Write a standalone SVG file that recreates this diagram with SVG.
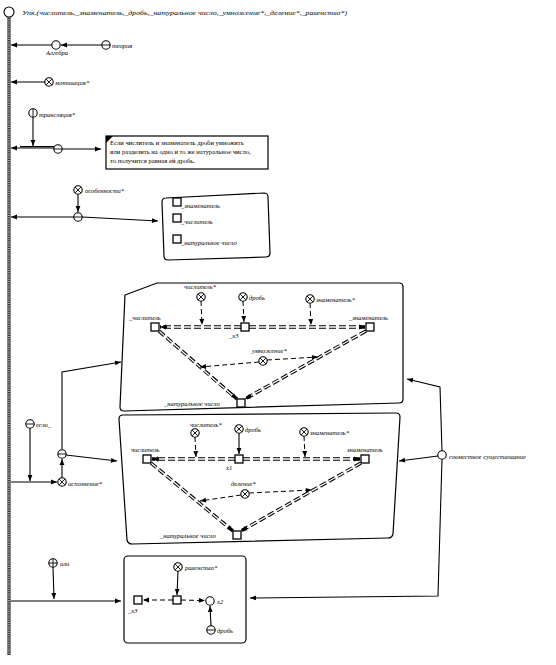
<svg xmlns="http://www.w3.org/2000/svg" xmlns:xlink="http://www.w3.org/1999/xlink" width="556" height="665" viewBox="0 0 556 665">
<style>
.t{font-family:"Liberation Serif",serif;font-style:italic;font-size:6.5px;fill:#000}
.tb{font-family:"Liberation Serif",serif;font-size:6.6px;fill:#000}
.ln{stroke:#000;stroke-width:1.1;fill:none}
.ds{stroke:#000;stroke-width:1;stroke-dasharray:5 3;fill:none}
.ddb{stroke:#000;stroke-width:3.4;stroke-dasharray:7 3;fill:none}
.ddw{stroke:#fff;stroke-width:1.3;stroke-dasharray:7 3;fill:none}
.sq{fill:#fff;stroke:#000;stroke-width:1.3}
.box{fill:#fff;stroke:#000;stroke-width:1.2}
.c{fill:#fff;stroke:#000;stroke-width:1.1}
.sym{stroke:#000;stroke-width:0.9;fill:none}
</style>
<defs>
<marker id="a" viewBox="0 0 10 10" refX="10" refY="5" markerWidth="7" markerHeight="6" orient="auto" markerUnits="userSpaceOnUse">
<path d="M0,1 L10,5 L0,9 Z" fill="#000"/>
</marker>
<g id="cO"><circle class="c" r="4.2"/></g>
<g id="cX"><circle class="c" r="4.2"/><path class="sym" d="M-2.9,-2.9 L2.9,2.9 M-2.9,2.9 L2.9,-2.9"/></g>
<g id="cH"><circle class="c" r="4.2"/><path class="sym" d="M-4.2,0 L4.2,0"/></g>
<g id="cV"><circle class="c" r="4.2"/><path class="sym" d="M0,-4.2 L0,4.2"/></g>
<g id="cP"><circle class="c" r="4.2"/><path class="sym" d="M-4.2,0 L4.2,0 M0,-4.2 L0,4.2"/></g>
<rect id="s" x="-4" y="-4" width="8" height="8" class="sq"/>
</defs>
<rect width="556" height="665" fill="#fff"/>

<g id="axis">
<line x1="9" y1="17" x2="9" y2="655" stroke="#333" stroke-width="3.2"/>
<line x1="9" y1="17" x2="9" y2="655" stroke="#fff" stroke-width="1.2" stroke-dasharray="1 1.2"/>
<circle cx="9" cy="12" r="5" class="c" stroke-width="1.4"/>
<text class="t" x="22" y="15" font-size="7" textLength="325" lengthAdjust="spacingAndGlyphs">Упк.(числитель,_знаменатель,_дробь,_натуральное число,_умножение*,_деление*,_равенство*)</text>
</g>

<g id="n-rule">
<rect class="box" x="106" y="136" width="162" height="33"/>
<path d="M106,136 L113,136 L106,143 Z" fill="#000"/>
<text class="tb" x="110" y="145">Если числитель и знаменатель дроби умножить</text>
<text class="tb" x="110" y="154">или разделить на одно и то же натуральное число,</text>
<text class="tb" x="110" y="163">то получится равная ей дробь.</text>
</g>
<g id="n-list">
<path class="box" d="M166,198 Q162,198 162,202 L164,256 Q164,260 168,260 L266,257 Q270,257 270,253 L268,197 Q268,193 264,193 Z"/>
<use xlink:href="#s" x="177" y="202"/><text class="t" x="181" y="208">_знаменатель</text>
<use xlink:href="#s" x="177" y="218"/><text class="t" x="181" y="224">_числитель</text>
<use xlink:href="#s" x="177" y="239"/><text class="t" x="181" y="245">_натуральное число</text>
</g>
<g id="n-box1">
<path class="box" d="M125,295 L157,283 L399,283 Q403,283 403,287 L403,399 Q403,403 399,403 L124,411 Q120,411 120,407 Z"/>
</g>
<g id="n-box2">
<path class="box" d="M123,415 L396,413 Q400,413 400,417 L393,534 Q392,538 388,538 L132,544 Q128,544 127,540 L119,419 Q119,415 123,415 Z"/>
</g>
<g id="n-box3"><rect class="box" x="124" y="556" width="122" height="87" rx="4"/></g>

<g id="connectors">
<path class="ln" d="M52,45 L11,45" marker-end="url(#a)"/>
<path class="ln" d="M102,45 L61,45" marker-end="url(#a)"/>
<path class="ln" d="M45,82 L11,82" marker-end="url(#a)"/>
<path class="ln" d="M33,117 L33,146" marker-end="url(#a)"/>
<path class="ln" d="M54,148 L11,148" marker-end="url(#a)"/>
<path class="ln" d="M54,146.6 L20,146.6"/>
<path class="ln" d="M62,149 L101,149" marker-end="url(#a)"/>
<path class="ln" d="M78,194 L78,212" marker-end="url(#a)"/>
<path class="ln" d="M74,217 L11,217" marker-end="url(#a)"/>
<path class="ln" d="M82,217 L158,221" marker-end="url(#a)"/>
<path class="ln" d="M11,482 L57,482" marker-end="url(#a)"/>
<path class="ln" d="M30,428 L30,481" marker-end="url(#a)"/>
<path class="ln" d="M62,478 L62,459" marker-end="url(#a)"/>
<path class="ln" d="M66,455 L117,461" marker-end="url(#a)"/>
<path class="ln" d="M62,449 L62,372 L121,362" marker-end="url(#a)"/>
<path class="ln" d="M442,451 L440,387 L407,379" marker-end="url(#a)"/>
<path class="ln" d="M438,456 L399,461" marker-end="url(#a)"/>
<path class="ln" d="M442,459 L438,596 L250,598" marker-end="url(#a)"/>
<path class="ln" d="M53,567 L54,599" marker-end="url(#a)"/>
<path class="ln" d="M11,601 L121,601" marker-end="url(#a)"/>

<path class="ddb" d="M241,327 L160,327" marker-end="url(#a)"/>
<path class="ddw" d="M241,327 L167,327"/>
<path class="ddb" d="M249,327 L365,327" marker-end="url(#a)"/>
<path class="ddw" d="M249,327 L358,327"/>
<path class="ddb" d="M159,331 L237,399" marker-end="url(#a)"/>
<path class="ddw" d="M159,331 L232,395"/>
<path class="ddb" d="M366,331 L245,399" marker-end="url(#a)"/>
<path class="ddw" d="M366,331 L251,395.5"/>
<path class="ds" d="M201,301 L202,325" marker-end="url(#a)"/>
<path class="ds" d="M243,301 L244,322" marker-end="url(#a)"/>
<path class="ds" d="M310,303 L311,325" marker-end="url(#a)"/>
<path class="ds" d="M259,362 L200,367" marker-end="url(#a)"/>
<path class="ds" d="M267,360 L318,357" marker-end="url(#a)"/>

<path class="ddb" d="M235,459 L152,459" marker-end="url(#a)"/>
<path class="ddw" d="M235,459 L159,459"/>
<path class="ddb" d="M243,459 L360,459" marker-end="url(#a)"/>
<path class="ddw" d="M243,459 L353,459"/>
<path class="ddb" d="M151,463 L233,531" marker-end="url(#a)"/>
<path class="ddw" d="M151,463 L228,527"/>
<path class="ddb" d="M361,463 L241,531" marker-end="url(#a)"/>
<path class="ddw" d="M361,463 L247,527.6"/>
<path class="ds" d="M195,437 L196,457" marker-end="url(#a)"/>
<path class="ln" d="M239,433 L239,454" marker-end="url(#a)"/>
<path class="ds" d="M304,436 L305,457" marker-end="url(#a)"/>
<path class="ds" d="M241,495 L200,501" marker-end="url(#a)"/>
<path class="ds" d="M249,493 L312,490" marker-end="url(#a)"/>

<path class="ds" d="M173,600 L143,600" marker-end="url(#a)"/>
<path class="ds" d="M181,600 L205,600.6" marker-end="url(#a)"/>
<path class="ln" d="M178,571 L177,595" marker-end="url(#a)"/>
<path class="ln" d="M211,626 L210,606" marker-end="url(#a)"/>
</g>

<g id="n-algebra"><use xlink:href="#cO" x="56" y="45"/><text class="t" x="46" y="55">Алгебра</text></g>
<g id="n-teoriya"><use xlink:href="#cH" x="106" y="45"/><text class="t" x="112" y="48">теория</text></g>
<g id="n-motivaciya"><use xlink:href="#cX" x="49" y="82"/><text class="t" x="55" y="85">мотивация*</text></g>
<g id="n-translyaciya"><use xlink:href="#cV" x="33" y="113"/><text class="t" x="39" y="117">трансляция*</text></g>
<g id="n-rule-junction"><use xlink:href="#cH" x="58" y="149"/></g>
<g id="n-osobennosti"><use xlink:href="#cX" x="78" y="190"/><text class="t" x="85" y="193">особенности*</text></g>
<g id="n-osob-junction"><use xlink:href="#cH" x="78" y="217"/></g>

<g id="n-b1-chisl-src"><use xlink:href="#cX" x="201" y="297"/><text class="t" x="200" y="289" text-anchor="middle">числитель*</text></g>
<g id="n-b1-drob"><use xlink:href="#cX" x="243" y="297"/><text class="t" x="249" y="300">дробь</text></g>
<g id="n-b1-znam-src"><use xlink:href="#cX" x="310" y="299"/><text class="t" x="316" y="302">знаменатель*</text></g>
<g id="n-b1-chisl"><use xlink:href="#s" x="155" y="327"/><text class="t" x="129" y="320">_числитель</text></g>
<g id="n-b1-x3"><use xlink:href="#s" x="245" y="327"/><text class="t" x="229" y="338">_x3</text></g>
<g id="n-b1-znam"><use xlink:href="#s" x="370" y="327"/><text class="t" x="349" y="320">_знаменатель</text></g>
<g id="n-b1-umn"><use xlink:href="#cX" x="263" y="361"/><text class="t" x="252" y="353">умножение*</text></g>
<g id="n-b1-nat"><use xlink:href="#s" x="241" y="403"/><text class="t" x="164" y="406">_натуральное число</text></g>

<g id="n-b2-chisl-src"><use xlink:href="#cX" x="195" y="433"/><text class="t" x="190" y="427">числитель*</text></g>
<g id="n-b2-drob"><use xlink:href="#cX" x="239" y="429"/><text class="t" x="245" y="432">дробь</text></g>
<g id="n-b2-znam-src"><use xlink:href="#cX" x="304" y="432"/><text class="t" x="310" y="435">знаменатель*</text></g>
<g id="n-b2-chisl"><use xlink:href="#s" x="147" y="459"/><text class="t" x="131" y="452">числитель</text></g>
<g id="n-b2-x1"><use xlink:href="#s" x="239" y="459"/><text class="t" x="226" y="470">x1</text></g>
<g id="n-b2-znam"><use xlink:href="#s" x="365" y="459"/><text class="t" x="347" y="452">знаменатель</text></g>
<g id="n-b2-del"><use xlink:href="#cX" x="245" y="494"/><text class="t" x="231" y="486">деление*</text></g>
<g id="n-b2-nat"><use xlink:href="#s" x="237" y="535"/><text class="t" x="160" y="538">_натуральное число</text></g>

<g id="n-esli"><use xlink:href="#cH" x="30" y="424"/><text class="t" x="36" y="427">если_</text></g>
<g id="n-ispolnenie"><use xlink:href="#cX" x="62" y="482"/><text class="t" x="68" y="486">исполнение*</text></g>
<g id="n-left-junction"><use xlink:href="#cH" x="62" y="454"/></g>
<g id="n-sovmestnoe"><use xlink:href="#cO" x="442" y="455"/><text class="t" x="449" y="459">совместное существование</text></g>

<g id="n-ili"><use xlink:href="#cP" x="53" y="563"/><text class="t" x="60" y="566">или</text></g>
<g id="n-b3-rav"><use xlink:href="#cX" x="178" y="567"/><text class="t" x="185" y="570">равенство*</text></g>
<g id="n-b3-x3"><use xlink:href="#s" x="138" y="600"/><text class="t" x="128" y="613">_x3</text></g>
<g id="n-b3-mid"><use xlink:href="#s" x="177" y="600"/></g>
<g id="n-b3-x2"><use xlink:href="#cO" x="210" y="601"/><text class="t" x="217" y="604">x2</text></g>
<g id="n-b3-drob"><use xlink:href="#cH" x="211" y="630"/><text class="t" x="217" y="633">дробь</text></g>
</svg>
